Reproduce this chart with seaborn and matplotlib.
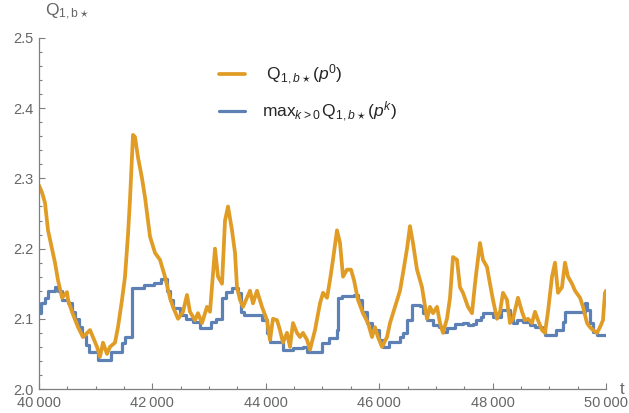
import numpy as np
import pandas as pd
import matplotlib
matplotlib.use("Agg")
import matplotlib.pyplot as plt
import seaborn as sns
from matplotlib.ticker import MultipleLocator, FuncFormatter

# === Data ===
# orange: Q_{1,b*}(p^0)
t_q0 = [40000, 40053, 40106, 40159, 40229, 40282, 40335, 40406, 40494, 40512,
        40582, 40688, 40776, 40900, 41023, 41076, 41129, 41199, 41252, 41340,
        41393, 41464, 41517, 41570, 41605, 41658, 41693, 41746, 41817, 41870,
        41922, 41958, 42046, 42134, 42222, 42310, 42363, 42452, 42540, 42610,
        42663, 42751, 42804, 42875, 42963, 43016, 43104, 43157, 43228, 43281,
        43334, 43404, 43457, 43492, 43545, 43598, 43669, 43722, 43774, 43845,
        43933, 44021, 44074, 44127, 44198, 44250, 44303, 44374, 44427, 44480,
        44550, 44603, 44656, 44727, 44780, 44868, 44956, 45009, 45080, 45132,
        45185, 45256, 45309, 45362, 45432, 45503, 45556, 45626, 45714, 45803,
        45873, 45926, 45979, 46050, 46138, 46191, 46279, 46367, 46420, 46491,
        46543, 46596, 46667, 46755, 46843, 46896, 46949, 47020, 47072, 47125,
        47196, 47249, 47302, 47372, 47425, 47478, 47566, 47637, 47690, 47725,
        47778, 47831, 47901, 47954, 48007, 48078, 48131, 48184, 48254, 48307,
        48360, 48448, 48519, 48572, 48625, 48695, 48748, 48801, 48871, 48924,
        48977, 49048, 49101, 49154, 49224, 49277, 49330, 49401, 49454, 49542,
        49595, 49665, 49718, 49771, 49842, 49894, 49947, 49982, 50000]
q0 = [2.290, 2.280, 2.265, 2.226, 2.200, 2.180, 2.155, 2.130, 2.138, 2.127,
      2.110, 2.088, 2.074, 2.084, 2.060, 2.046, 2.066, 2.050, 2.060, 2.066,
      2.088, 2.127, 2.160, 2.220, 2.270, 2.362, 2.359, 2.330, 2.300, 2.273,
      2.240, 2.217, 2.194, 2.184, 2.160, 2.130, 2.117, 2.100, 2.110, 2.134,
      2.110, 2.098, 2.108, 2.094, 2.117, 2.110, 2.200, 2.160, 2.150, 2.240,
      2.260, 2.226, 2.194, 2.145, 2.127, 2.117, 2.130, 2.140, 2.122, 2.140,
      2.117, 2.098, 2.070, 2.100, 2.098, 2.084, 2.066, 2.080, 2.060, 2.094,
      2.080, 2.074, 2.080, 2.070, 2.056, 2.084, 2.122, 2.137, 2.130, 2.155,
      2.184, 2.226, 2.208, 2.160, 2.170, 2.170, 2.155, 2.127, 2.108, 2.094,
      2.074, 2.088, 2.074, 2.060, 2.074, 2.094, 2.117, 2.140, 2.165, 2.200,
      2.232, 2.208, 2.170, 2.145, 2.100, 2.117, 2.108, 2.117, 2.094, 2.080,
      2.100, 2.130, 2.188, 2.184, 2.145, 2.137, 2.117, 2.108, 2.150, 2.174,
      2.208, 2.184, 2.174, 2.150, 2.127, 2.100, 2.110, 2.137, 2.127, 2.094,
      2.100, 2.130, 2.110, 2.098, 2.100, 2.094, 2.110, 2.098, 2.084, 2.080,
      2.110, 2.160, 2.180, 2.137, 2.145, 2.180, 2.160, 2.150, 2.140, 2.130,
      2.117, 2.094, 2.088, 2.084, 2.080, 2.088, 2.098, 2.137, 2.140]

# blue: max_{k>0} Q_{1,b*}(p^k), step function
t_qmax = [40000, 40035, 40106, 40159, 40282, 40335, 40406, 40512, 40582, 40640,
          40700, 40760, 40830, 40880, 41040, 41270, 41460, 41520, 41640, 41850,
          42030, 42150, 42250, 42310, 42360, 42480, 42600, 42720, 42840, 43030,
          43120, 43230, 43300, 43400, 43510, 43560, 43620, 43940, 44020, 44070,
          44300, 44480, 44650, 44720, 44990, 45120, 45250, 45270, 45350, 45560,
          45620, 45700, 45790, 45880, 46000, 46060, 46180, 46360, 46420, 46490,
          46580, 46720, 46770, 46840, 46950, 47060, 47120, 47190, 47340, 47480,
          47560, 47650, 47710, 47800, 47830, 48000, 48140, 48300, 48360, 48430,
          48540, 48660, 48750, 48870, 48920, 49110, 49240, 49280, 49600, 49630,
          49660, 49710, 49770, 49850, 50000]
qmax = [2.108, 2.122, 2.130, 2.140, 2.145, 2.140, 2.127, 2.122, 2.110, 2.100,
        2.088, 2.075, 2.063, 2.053, 2.041, 2.053, 2.066, 2.074, 2.144, 2.148,
        2.151, 2.157, 2.140, 2.127, 2.115, 2.105, 2.100, 2.095, 2.087, 2.095,
        2.100, 2.130, 2.138, 2.144, 2.137, 2.110, 2.105, 2.098, 2.080, 2.067,
        2.056, 2.058, 2.060, 2.053, 2.066, 2.073, 2.084, 2.130, 2.132, 2.134,
        2.127, 2.110, 2.094, 2.084, 2.070, 2.060, 2.067, 2.074, 2.080, 2.098,
        2.120, 2.118, 2.108, 2.098, 2.091, 2.088, 2.081, 2.087, 2.093, 2.094,
        2.091, 2.093, 2.098, 2.103, 2.108, 2.103, 2.112, 2.101, 2.094, 2.098,
        2.095, 2.091, 2.088, 2.087, 2.077, 2.084, 2.095, 2.110, 2.110, 2.122,
        2.113, 2.094, 2.081, 2.077, 2.077]

orange = "#E09C24"
blue = "#5E81B5"
axis_gray = "#7f7f7f"
label_gray = "#666666"

sns.set_style("ticks")
plt.rcParams["font.family"] = ["Liberation Sans", "DejaVu Sans"]
plt.rcParams["mathtext.fontset"] = "custom"
plt.rcParams["mathtext.rm"] = "Liberation Sans"
plt.rcParams["mathtext.it"] = "Liberation Sans:italic"

fig = plt.figure(figsize=(6.29, 4.13), dpi=100)
ax = fig.add_axes([0.0620, 0.0581, 0.9014, 0.8499])

df_max = pd.DataFrame({"t": t_qmax, "Q": qmax})
df_q0 = pd.DataFrame({"t": t_q0, "Q": q0})

sns.lineplot(data=df_max, x="t", y="Q", ax=ax, color=blue, lw=2.3,
             drawstyle="steps-post", estimator=None, sort=False,
             label=r"$\mathrm{max}_{k>\mathrm{0}}\,\mathrm{Q}_{\mathrm{1,}b\star}(p^{k})$")
sns.lineplot(data=df_q0, x="t", y="Q", ax=ax, color=orange, lw=2.7,
             estimator=None, sort=False,
             label=r" $\mathrm{Q}_{\mathrm{1,}b\star}(p^{\mathrm{0}})$")

ax.set_xlim(40000, 50000)
ax.set_ylim(2.0, 2.5)
ax.set_xlabel("")
ax.set_ylabel("")

ax.xaxis.set_major_locator(MultipleLocator(2000))
ax.xaxis.set_minor_locator(MultipleLocator(500))
ax.yaxis.set_major_locator(MultipleLocator(0.1))
ax.yaxis.set_minor_locator(MultipleLocator(0.02))
ax.xaxis.set_major_formatter(FuncFormatter(lambda v, p: f"{int(v) // 1000}\u2009000"))
ax.yaxis.set_major_formatter(FuncFormatter(lambda v, p: f"{v:.1f}"))

ax.tick_params(which="both", direction="in", color=axis_gray, width=0.8,
               labelcolor=label_gray, labelsize=10.5)
ax.tick_params(which="major", length=4.5)
ax.tick_params(which="minor", length=2.5)
ax.tick_params(axis="x", pad=5)
ax.tick_params(axis="y", pad=4)
for s in ["top", "right"]:
    ax.spines[s].set_visible(False)
for s in ["left", "bottom"]:
    ax.spines[s].set_color(axis_gray)
    ax.spines[s].set_linewidth(0.9)

ax.text(0.010, 1.045, r"$\mathrm{Q}_{\mathrm{1,b}\star}$", transform=ax.transAxes,
        color=label_gray, fontsize=12.5, ha="left", va="bottom")
ax.text(1.024, 0.0, "t", transform=ax.transAxes, color=label_gray,
        fontsize=12, ha="left", va="center")

handles, labels = ax.get_legend_handles_labels()
ax.legend(handles[::-1], labels[::-1], loc="upper left",
          bbox_to_anchor=(0.29, 0.975), frameon=False, fontsize=12.5,
          handlelength=1.5, handletextpad=1.0, labelspacing=0.75)

plt.savefig("out.png", dpi=100)
